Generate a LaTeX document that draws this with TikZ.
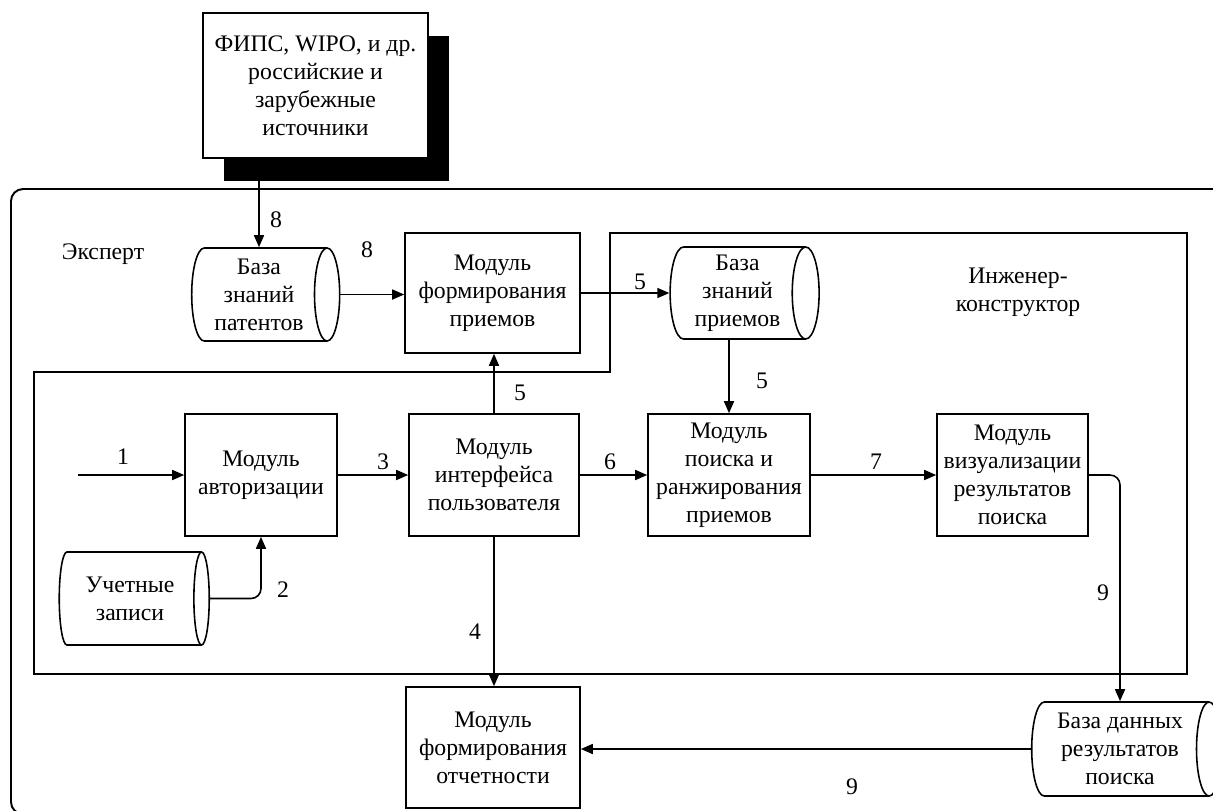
\documentclass[tikz,border=0pt]{standalone}
\usepackage{fontspec}
\setmainfont{Liberation Serif}
\usetikzlibrary{arrows.meta,shapes.geometric,shadows}

\begin{document}
\begin{tikzpicture}[x=0.2mm, y=-0.2mm, line width=0.9pt,
    every node/.style={font=\fontsize{13.5}{16}\selectfont},
    modbox/.style={draw, rectangle, align=center, inner sep=0pt},
    store/.style={draw, cylinder, aspect=0.35, align=center, inner sep=0pt},
    flow/.style={-{Triangle[length=2.4mm,width=2mm]}}]
    \useasboundingbox (0,0) rectangle (1213,810);
    % Areas:
    \draw[line width=1.1pt, rounded corners=2.4mm] (11,189) rectangle (1260,814);
    \draw (34,372) -- (610,372) -- (610,233) -- (1187,233) -- (1187,674) -- (34,674) -- cycle;
    \node (expert) at (103,254) {Эксперт};
    \node[align=center] (engineer) at (1018,292) {Инженер-\\конструктор};
    % Modules and stores:
    \node[modbox, fill=white, minimum width=45mm, minimum height=29mm,
      drop shadow={fill=black, opacity=1, shadow xshift=4.1mm, shadow yshift=-4.6mm}]
      (src) at (315.5,85.5) {ФИПС, WIPO, и др.\\российские и\\зарубежные\\источники};
    \node[store, minimum height=29.6mm, minimum width=18.6mm] (kbpat) at (259,294.5) {База\\знаний\\патентов};
    \node[modbox, minimum width=35mm, minimum height=24mm] (formp) at (492.5,293) {Модуль\\формирования\\приемов};
    \node[store, minimum height=29.8mm, minimum width=18.4mm] (kbm) at (737.5,293) {База\\знаний\\приемов};
    \node[modbox, minimum width=30.4mm, minimum height=24.4mm] (auth) at (261,475) {Модуль\\авторизации};
    \node[modbox, minimum width=34mm, minimum height=24.4mm] (iface) at (494,475) {Модуль\\интерфейса\\пользователя};
    \node[modbox, minimum width=32.4mm, minimum height=24.4mm] (search) at (729,475) {Модуль\\поиска и\\ранжирования\\приемов};
    \node[modbox, minimum width=30.2mm, minimum height=24.4mm] (viz) at (1012.5,475) {Модуль\\визуализации\\результатов\\поиска};
    \node[store, minimum height=30mm, minimum width=18.6mm] (acc) at (130,598.5) {Учетные\\записи};
    \node[modbox, minimum width=34.8mm, minimum height=24.2mm] (report) at (493,747.5) {Модуль\\формирования\\отчетности};
    \node[store, minimum height=38mm, minimum width=18.8mm] (resdb) at (1120,749) {База данных\\результатов\\поиска};
    \coordinate (in1) at (78,475);
    % Flows:
    \draw[flow] (src.south -| kbpat.north) -- (kbpat.north);
    \draw[flow] (kbpat.east) -- (kbpat.east -| formp.west);
    \draw[flow] (formp.east) -- (formp.east -| kbm.west);
    \draw[flow] (kbm.south -| search.north) -- (search.north);
    \draw[flow] (iface.north) -- (iface.north |- formp.south);
    \draw[flow] (in1) -- (auth.west);
    \draw[flow] (auth.east) -- (iface.west);
    \draw[flow] (iface.east) -- (search.west);
    \draw[flow] (search.east) -- (viz.west);
    \draw[flow, rounded corners=2mm] (viz.east) -| (resdb.north);
    \draw[flow, rounded corners=2mm] (acc.east) -| (auth.south);
    \draw[flow] (iface.south) -- (iface.south |- report.north);
    \draw[flow] (resdb.west) -- (resdb.west -| report.east);
    % Flow numbers:
    \node (n8a) at (276,220) {8};
    \node (n8b) at (367,250) {8};
    \node (n5a) at (640,282) {5};
    \node (n5b) at (520,393) {5};
    \node (n5c) at (762,381) {5};
    \node (n1) at (123,457) {1};
    \node (n3) at (383,462) {3};
    \node (n6) at (610,462) {6};
    \node (n7) at (876,462) {7};
    \node (n2) at (283,590) {2};
    \node (n4) at (475,632) {4};
    \node (n9a) at (1103,593) {9};
    \node (n9b) at (852,787) {9};
\end{tikzpicture}
\end{document}
